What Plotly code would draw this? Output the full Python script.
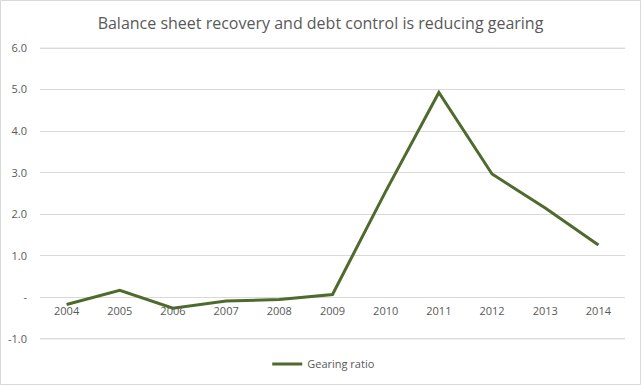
import plotly.graph_objects as go

years = ["2004", "2005", "2006", "2007", "2008", "2009", "2010", "2011", "2012", "2013", "2014"]
gearing = [-0.17, 0.17, -0.26, -0.09, -0.05, 0.07, 2.55, 4.93, 2.97, 2.15, 1.26]
y_ticks = [-1, 0, 1, 2, 3, 4, 5, 6]
y_labels = ["-1.0", "-", "1.0", "2.0", "3.0", "4.0", "5.0", "6.0"]

W, H = 641, 385
ml, mr, mt, mb = 40, 16, 46, 44
pw, ph = W - ml - mr, H - mt - mb
pad = 0.05
ylo, yhi = y_ticks[0] - pad, y_ticks[-1] + pad

font = "Open Sans, Noto Sans, sans-serif"
grey = "#595959"
gridc = "#d9d9d9"

fig = go.Figure()
fig.add_trace(go.Scatter(
    x=years, y=gearing, mode="lines", name="Gearing ratio",
    line=dict(color="#4E6B2D", width=3),
))

shapes = [dict(type="rect", xref="paper", yref="paper",
               x0=-(ml - 0.5) / pw, x1=1 + (mr - 0.5) / pw,
               y0=-(mb - 0.5) / ph, y1=1 + (mt - 0.5) / ph,
               line=dict(color=gridc, width=1), layer="above")]
for v in (y_ticks[0], y_ticks[-1]):
    shapes.append(dict(type="line", xref="paper", yref="y", x0=0, x1=1,
                       y0=v, y1=v, line=dict(color=gridc, width=1), layer="above"))

fig.update_layout(
    width=W, height=H,
    margin=dict(l=ml, r=mr, t=mt, b=mb, autoexpand=False),
    paper_bgcolor="white", plot_bgcolor="rgba(0,0,0,0)",
    title=dict(text="Balance sheet recovery and debt control is reducing gearing",
               x=0.5, xanchor="center", xref="container",
               y=1 - 23 / H, yanchor="middle", yref="container",
               font=dict(family=font, size=16, color=grey)),
    font=dict(family=font, size=11, color=grey),
    showlegend=True,
    legend=dict(orientation="h", x=0.485, xanchor="center",
                y=(-(364 - (H - mb)) / ph), yanchor="middle",
                font=dict(family=font, size=11, color=grey)),
    xaxis=dict(type="category", range=[-0.5, 10.5], showgrid=False,
               zeroline=False, showline=False, automargin=False,
               anchor="free", position=(0 - ylo) / (yhi - ylo), ticks="",
               ticklabelstandoff=6,
               tickfont=dict(family=font, size=11, color=grey)),
    yaxis=dict(range=[ylo, yhi], tickvals=y_ticks, ticktext=y_labels,
               showgrid=True, gridcolor=gridc, gridwidth=1,
               zeroline=False, showline=False, ticks="", ticklabelstandoff=12,
               automargin=False,
               tickfont=dict(family=font, size=11, color=grey)),
    shapes=shapes,
)

fig.write_html("out.html", config={"displayModeBar": False},
               post_script="document.body.style.margin='0';")
